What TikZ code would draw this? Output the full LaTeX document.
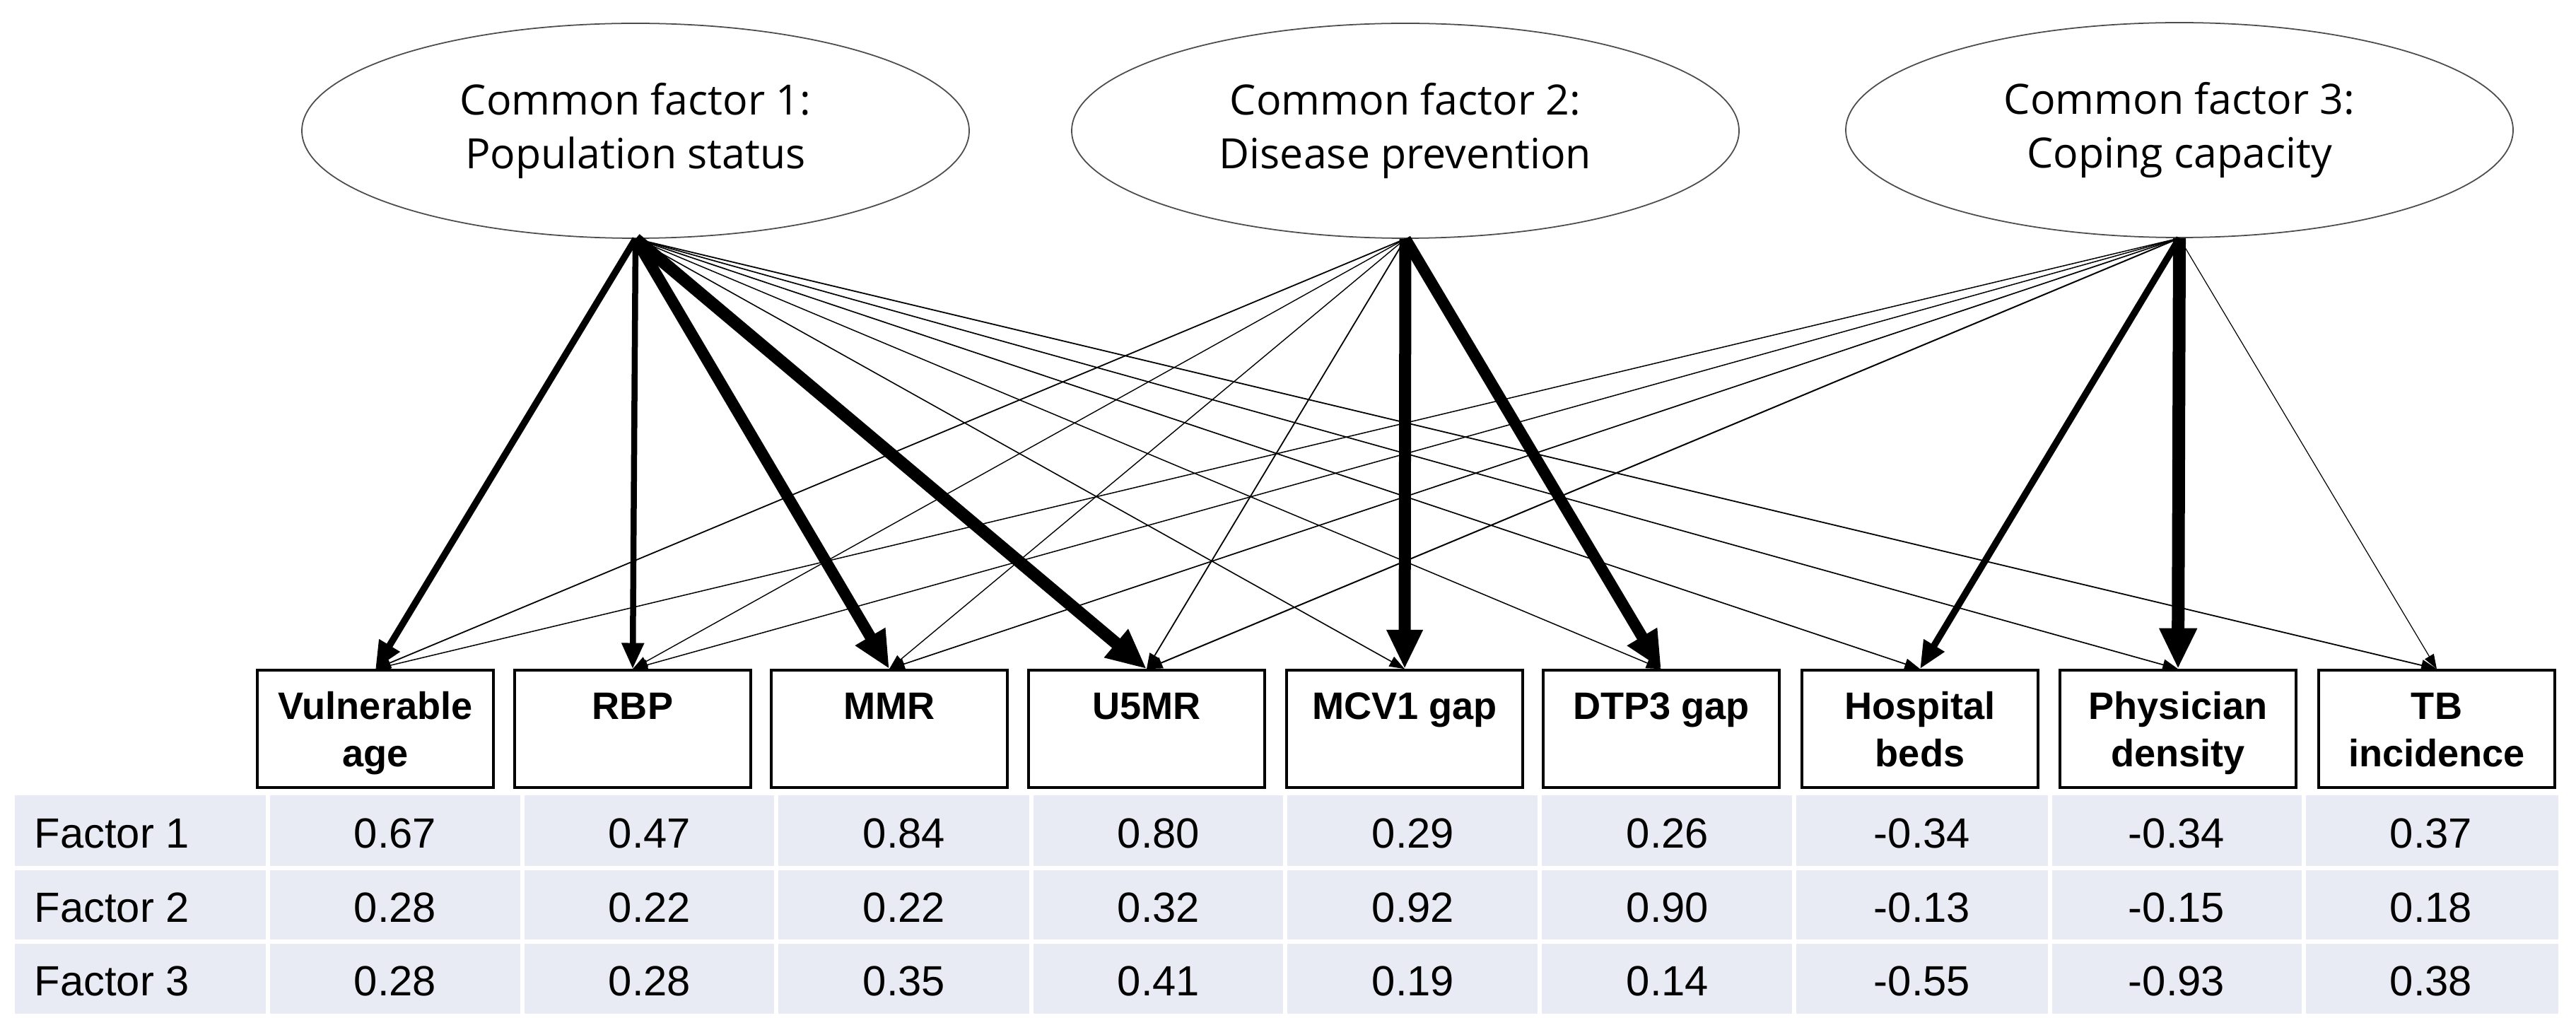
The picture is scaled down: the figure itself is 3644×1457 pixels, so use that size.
\documentclass[tikz,border=0pt]{standalone}
\usepackage{fontspec}
\setmainfont{Liberation Sans}
\newfontfamily\ellfont{Open Sans}
\usetikzlibrary{shapes.geometric,arrows.meta}
\definecolor{cellbg}{RGB}{233,235,244}
\newcommand\loadarrow[3]{%
  \pgfmathsetmacro\lwv{#3*0.1}%
  \pgfmathsetmacro\hlen{(18+2.2*#3)*0.1}%
  \pgfmathsetmacro\hwid{(12+2.1*#3)*0.1}%
  \draw[line width=\lwv mm, -{Triangle[length=\hlen mm, width=\hwid mm]}] (#1.south) -- (#2.north);}
\begin{document}
\begin{tikzpicture}[x=0.1mm, y=-0.1mm,
  factor/.style={ellipse, draw=black!70, line width=0.5pt, minimum width=94.4mm,
    minimum height=30.4mm, inner sep=0pt, align=center,
    font=\ellfont\fontsize{16.8pt}{21.6pt}\selectfont},
  varbox/.style={draw, line width=1pt, minimum width=33.4mm, minimum height=16.6mm,
    inner sep=0pt, font=\bfseries\fontsize{15.4pt}{19.3pt}\selectfont},
  cell/.style={inner sep=0pt, font=\fontsize{17pt}{20pt}\selectfont}]
\useasboundingbox (0,0) rectangle (3644,1457);
\fill[white] (0,0) rectangle (3644,1457);

% factor ellipses
\node[factor] (f1) at (899,185) {Common factor 1:\\Population status};
\node[factor] (f2) at (1988,185) {Common factor 2:\\Disease prevention};
\node[factor] (f3) at (3083,184) {Common factor 3:\\Coping capacity};

% variable boxes
\newcommand\boxtext[1]{\parbox[c][16.6mm][t]{33.4mm}{\centering\rule{0pt}{6.9mm}#1}}
\node[varbox] (b1) at (531,1031) {\boxtext{Vulnerable\\age}};
\node[varbox] (b2) at (895,1031) {\boxtext{RBP}};
\node[varbox] (b3) at (1258,1031) {\boxtext{MMR}};
\node[varbox] (b4) at (1622,1031) {\boxtext{U5MR}};
\node[varbox] (b5) at (1987,1031) {\boxtext{MCV1 gap}};
\node[varbox] (b6) at (2350,1031) {\boxtext{DTP3 gap}};
\node[varbox] (b7) at (2716,1031) {\boxtext{Hospital\\beds}};
\node[varbox] (b8) at (3081,1031) {\boxtext{Physician\\density}};
\node[varbox] (b9) at (3447,1031) {\boxtext{TB\\incidence}};

% loadings (thin first)
\loadarrow{f1}{b5}{1.6}
\loadarrow{f1}{b6}{1.5}
\loadarrow{f1}{b7}{1.7}
\loadarrow{f1}{b8}{1.7}
\loadarrow{f1}{b9}{1.8}
\loadarrow{f2}{b1}{1.8}
\loadarrow{f2}{b2}{1.4}
\loadarrow{f2}{b3}{1.4}
\loadarrow{f2}{b4}{1.8}
\loadarrow{f3}{b1}{1.5}
\loadarrow{f3}{b2}{1.5}
\loadarrow{f3}{b3}{1.7}
\loadarrow{f3}{b4}{2}
\loadarrow{f3}{b9}{1.2}
\loadarrow{f1}{b1}{9.5}
\loadarrow{f1}{b2}{8.5}
\loadarrow{f1}{b3}{16}
\loadarrow{f1}{b4}{17.5}
\loadarrow{f2}{b5}{17}
\loadarrow{f2}{b6}{16}
\loadarrow{f3}{b7}{9.5}
\loadarrow{f3}{b8}{18}

% table
\fill[cellbg] (21,1125) rectangle (3619,1434);
\foreach \xx in {379,739,1098,1459,1818,2178,2538,2900,3259}
  \draw[white, line width=0.6mm] (\xx,1125) -- (\xx,1434);
\foreach \yy in {1228,1332}
  \draw[white, line width=0.6mm] (21,\yy) -- (3619,\yy);

\node[cell, anchor=base west] (r1) at (48,1199) {Factor 1};
\node[cell, anchor=base west] (r2) at (48,1304) {Factor 2};
\node[cell, anchor=base west] (r3) at (48,1408) {Factor 3};

\foreach \v [count=\i] in {0.67,0.47,0.84,0.80,0.29,0.26,-0.34,-0.34,0.37}{
  \pgfmathsetmacro\cx{559+360*(\i-1)}
  \node[cell, anchor=base] (ta\i) at (\cx,1199) {\v};}
\foreach \v [count=\i] in {0.28,0.22,0.22,0.32,0.92,0.90,-0.13,-0.15,0.18}{
  \pgfmathsetmacro\cx{559+360*(\i-1)}
  \node[cell, anchor=base] (tb\i) at (\cx,1304) {\v};}
\foreach \v [count=\i] in {0.28,0.28,0.35,0.41,0.19,0.14,-0.55,-0.93,0.38}{
  \pgfmathsetmacro\cx{559+360*(\i-1)}
  \node[cell, anchor=base] (tc\i) at (\cx,1408) {\v};}
\end{tikzpicture}
\end{document}
